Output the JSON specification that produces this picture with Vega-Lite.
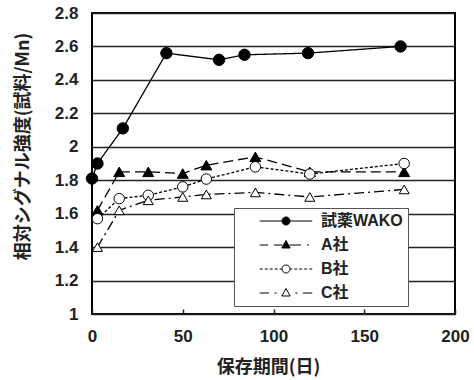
{
  "$schema": "https://vega.github.io/schema/vega-lite/v6.json",
  "width": 363,
  "height": 301,
  "autosize": {"type": "none"},
  "padding": {"left": 92, "top": 13, "right": 19, "bottom": 66},
  "background": "white",
  "data": {
    "values": [
      {"series": "試薬WAKO", "day": 0, "value": 1.81},
      {"series": "試薬WAKO", "day": 3, "value": 1.9},
      {"series": "試薬WAKO", "day": 17, "value": 2.11},
      {"series": "試薬WAKO", "day": 41, "value": 2.56},
      {"series": "試薬WAKO", "day": 70, "value": 2.52},
      {"series": "試薬WAKO", "day": 84, "value": 2.55},
      {"series": "試薬WAKO", "day": 119, "value": 2.56},
      {"series": "試薬WAKO", "day": 170, "value": 2.6},
      {"series": "A社", "day": 3, "value": 1.62},
      {"series": "A社", "day": 15, "value": 1.85},
      {"series": "A社", "day": 31, "value": 1.85},
      {"series": "A社", "day": 50, "value": 1.84},
      {"series": "A社", "day": 63, "value": 1.89},
      {"series": "A社", "day": 90, "value": 1.94},
      {"series": "A社", "day": 120, "value": 1.85},
      {"series": "A社", "day": 172, "value": 1.85},
      {"series": "B社", "day": 3, "value": 1.57},
      {"series": "B社", "day": 15, "value": 1.69},
      {"series": "B社", "day": 31, "value": 1.71},
      {"series": "B社", "day": 50, "value": 1.76},
      {"series": "B社", "day": 63, "value": 1.807},
      {"series": "B社", "day": 90, "value": 1.88},
      {"series": "B社", "day": 120, "value": 1.837},
      {"series": "B社", "day": 172, "value": 1.9},
      {"series": "C社", "day": 3, "value": 1.4},
      {"series": "C社", "day": 15, "value": 1.62},
      {"series": "C社", "day": 31, "value": 1.68},
      {"series": "C社", "day": 50, "value": 1.7},
      {"series": "C社", "day": 63, "value": 1.715},
      {"series": "C社", "day": 90, "value": 1.727},
      {"series": "C社", "day": 120, "value": 1.7},
      {"series": "C社", "day": 172, "value": 1.745}
    ]
  },
  "encoding": {
    "x": {
      "field": "day",
      "type": "quantitative",
      "scale": {"domain": [0, 200], "nice": false, "zero": false},
      "axis": {
        "title": "保存期間(日)",
        "values": [0, 50, 100, 150, 200],
        "grid": false,
        "domain": false,
        "ticks": true,
        "tickSize": -5,
        "tickColor": "#222",
        "tickWidth": 1.5,
        "labelPadding": 19.5,
        "labelFontSize": 17,
        "labelFont": "Liberation Sans",
        "labelFontWeight": "bold",
        "labelColor": "#222",
        "labelFlush": false,
        "titleFont": "Noto Sans CJK JP",
        "titleFontSize": 18,
        "titleFontWeight": "bold",
        "titleColor": "#222",
        "titleX": 176,
        "titleY": 53,
        "titleBaseline": "middle",
        "titleAlign": "center"
      }
    },
    "y": {
      "field": "value",
      "type": "quantitative",
      "scale": {"domain": [1, 2.8], "nice": false, "zero": false},
      "axis": {
        "title": "相対シグナル強度(試料/Mn)",
        "values": [1, 1.2, 1.4, 1.6, 1.8, 2, 2.2, 2.4, 2.6, 2.8],
        "format": "~g",
        "grid": true,
        "gridColor": "#222",
        "gridWidth": 1.5,
        "domain": false,
        "ticks": false,
        "tickSize": 0,
        "labelPadding": 14,
        "labelFontSize": 17,
        "labelFont": "Liberation Sans",
        "labelFontWeight": "bold",
        "labelColor": "#222",
        "labelFlush": false,
        "titleFont": "Noto Sans CJK JP",
        "titleFontSize": 18,
        "titleFontWeight": "bold",
        "titleColor": "#222",
        "titleAngle": -90,
        "titleX": -69,
        "titleY": 133,
        "titleBaseline": "middle",
        "titleAlign": "center"
      }
    }
  },
  "layer": [
    {
      "mark": {"type": "line", "color": "black", "strokeWidth": 1.3},
      "encoding": {
        "detail": {"field": "series"},
        "strokeDash": {
          "field": "series",
          "type": "nominal",
          "scale": {
            "domain": ["試薬WAKO", "A社", "B社", "C社"],
            "range": [[1, 0], [10, 5], [3, 2], [10, 4, 2, 4]]
          },
          "legend": null
        }
      }
    },
    {
      "mark": {"type": "point", "filled": true, "stroke": "black", "strokeWidth": 1, "opacity": 1},
      "encoding": {
        "fill": {
          "field": "series",
          "type": "nominal",
          "scale": {
            "domain": ["試薬WAKO", "A社", "B社", "C社"],
            "range": ["black", "black", "white", "white"]
          },
          "legend": null
        },
        "size": {
          "field": "series",
          "type": "nominal",
          "scale": {
            "domain": ["試薬WAKO", "A社", "B社", "C社"],
            "range": [130, 100, 100, 144]
          },
          "legend": null
        },
        "shape": {
          "field": "series",
          "type": "nominal",
          "scale": {
            "domain": ["試薬WAKO", "A社", "B社", "C社"],
            "range": ["circle", "triangle-up", "circle", "triangle-up"]
          },
          "legend": null
        }
      }
    },
    {
      "mark": {"type": "point", "filled": true, "strokeWidth": 1, "opacity": 0},
      "encoding": {
        "fill": {
          "field": "series",
          "type": "nominal",
          "scale": {
            "domain": ["試薬WAKO", "A社", "B社", "C社"],
            "range": ["black", "black", "white", "white"]
          }
        },
        "stroke": {
          "field": "series",
          "type": "nominal",
          "scale": {
            "domain": ["試薬WAKO", "A社", "B社", "C社"],
            "range": ["black", "black", "black", "black"]
          }
        },
        "shape": {
          "field": "series",
          "type": "nominal",
          "scale": {
            "domain": ["試薬WAKO", "A社", "B社", "C社"],
            "range": [
              "M-4.37,0H-0.67M0.67,0H4.37M0.67,0C0.67,0.37,0.37,0.67,0,0.67C-0.37,0.67,-0.67,0.37,-0.67,0C-0.67,-0.37,-0.37,-0.67,0,-0.67C0.37,-0.67,0.67,-0.37,0.67,0Z",
              "M-4.37,0H-3M-2,0H-0.6M0.6,0H2.5M3.5,0H3.83M0,-0.75L0.7,0.5L-0.7,0.5Z",
              "M-4.37,0H-3.87M-3.54,0H-3.04M-2.71,0H-2.21M-1.88,0H-1.38M-1.05,0H-0.7M0.7,0H1.05M1.38,0H1.88M2.21,0H2.71M3.04,0H3.54M3.87,0H4.37M0.67,0C0.67,0.37,0.37,0.67,0,0.67C-0.37,0.67,-0.67,0.37,-0.67,0C-0.67,-0.37,-0.37,-0.67,0,-0.67C0.37,-0.67,0.67,-0.37,0.67,0Z",
              "M-4.37,0H-2.83M-1.92,0H-1.58M1.58,0H1.92M2.83,0H4.37M0,-0.75L0.7,0.5L-0.7,0.5Z"
            ]
          },
          "legend": {
            "title": null,
            "orient": "none",
            "legendX": 142,
            "legendY": 195,
            "padding": 5,
            "fillColor": "white",
            "strokeColor": "#555",
            "symbolSize": 144,
            "symbolOffset": 39,
            "symbolOpacity": 1,
            "symbolStrokeColor": "black",
            "symbolStrokeWidth": 1,
            "labelOffset": 27,
            "rowPadding": 8,
            "labelFont": "Liberation Sans, Noto Sans CJK JP",
            "labelFontSize": 16,
            "labelFontWeight": "bold",
            "labelColor": "#222",
            "labelBaseline": "middle"
          }
        }
      }
    }
  ],
  "resolve": {"scale": {"shape": "independent", "fill": "independent", "stroke": "independent"}},
  "config": {
    "view": {"stroke": "black", "strokeWidth": 2},
    "font": "Liberation Sans"
  }
}
